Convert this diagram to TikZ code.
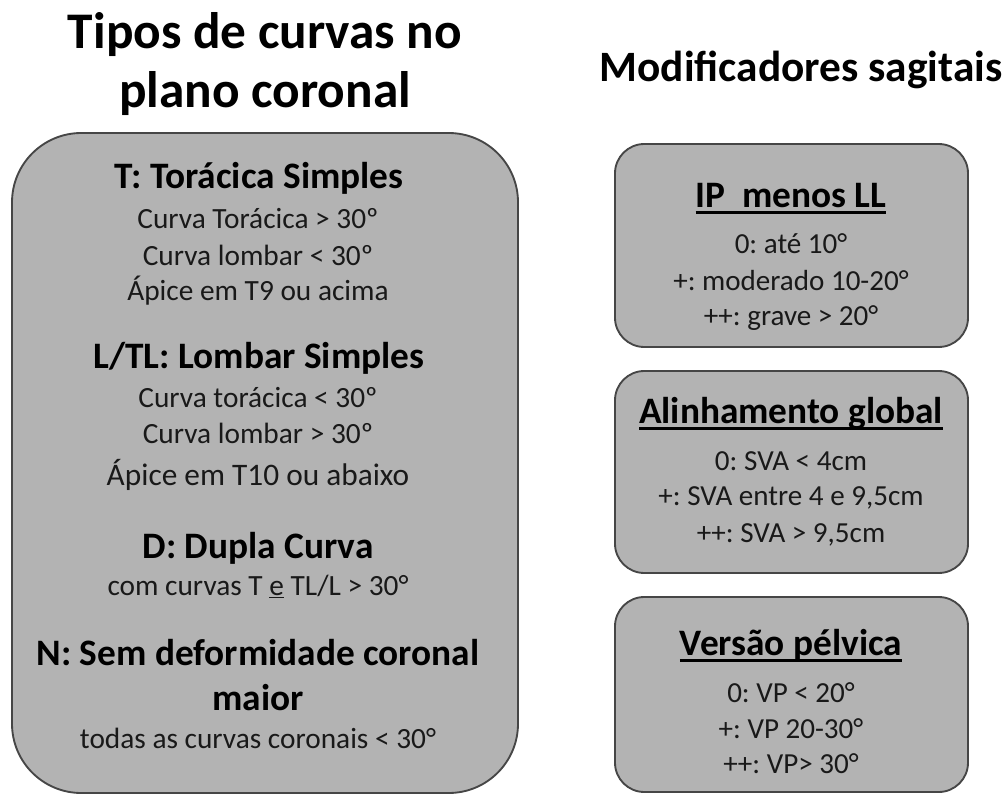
\documentclass[tikz,border=0pt]{standalone}
\usepackage{fontspec}
\setmainfont{Carlito}
\frenchspacing
\definecolor{boxfill}{RGB}{179,179,179}
\definecolor{boxline}{RGB}{70,70,70}
\definecolor{txt}{RGB}{25,25,25}
\newcommand\ulbox[1]{\setbox0=\hbox{#1}\rlap{\rule[-0.18em]{\wd0}{0.085em}}\box0}
\tikzset{
  box/.style={draw=boxline, fill=boxfill, line width=1.4pt, inner sep=0pt},
  ttl/.style={anchor=base, inner sep=0pt, text=black, font=\bfseries\fontsize{38.5}{40}\selectfont},
  sttl/.style={anchor=base, inner sep=0pt, text=black, font=\bfseries\fontsize{32.5}{34}\selectfont},
  hd/.style={anchor=base, inner sep=0pt, text=black, font=\bfseries\fontsize{28}{30}\selectfont},
  bd/.style={anchor=base, inner sep=0pt, text=txt, font=\fontsize{22}{24}\selectfont},
  rbd/.style={anchor=base, inner sep=0pt, text=txt, font=\fontsize{21.8}{23}\selectfont},
}
\begin{document}
\begin{tikzpicture}[x=0.75pt, y=-0.75pt]
\useasboundingbox (0,0) rectangle (1006,795);
% titles
\node[ttl] (t1) at (265,49) {Tipos de curvas no};
\node[ttl] (t2) at (265,108) {plano coronal};
\node[sttl] (t3) at (801,82) {Modificadores sagitais};
% boxes
\node[box, rounded corners=52pt, minimum width=379.5pt, minimum height=495pt] (L) at (265,463) {};
\node[box, rounded corners=22pt, minimum width=264.75pt, minimum height=152.25pt] (R1) at (791.5,245.5) {};
\node[box, rounded corners=22pt, minimum width=264.75pt, minimum height=151.5pt] (R2) at (791.5,472) {};
\node[box, rounded corners=22pt, minimum width=264.75pt, minimum height=146.25pt] (R3) at (791.5,694.5) {};
% left box text
\node[hd] (a1) at (259,189) {T: Torácica Simples};
\node[bd] (a2) at (258,228) {Curva Torácica > 30º};
\node[bd] (a3) at (258,265) {Curva lombar < 30º};
\node[bd] (a4) at (258,300) {Ápice em T9 ou acima};
\node[hd] (b1) at (259,368) {L/TL: Lombar Simples};
\node[bd] (b2) at (258,407) {Curva torácica < 30º};
\node[bd] (b3) at (258,443) {Curva lombar > 30º};
\node[bd, font=\fontsize{23.5}{25}\selectfont] (b4) at (258,485) {Ápice em T10 ou abaixo};
\node[hd] (c1) at (258,558) {D: Dupla Curva};
\node[bd] (c2) at (258,595) {com curvas T \underline{e} TL/L > 30°};
\node[hd] (d1) at (258,665) {N: Sem deformidade coronal};
\node[hd] (d2) at (258,710) {maior};
\node[bd] (d3) at (258,748) {todas as curvas coronais < 30°};
% right box 1
\node[hd] (p1) at (791,207) {\ulbox{IP\ \ menos LL}};
\node[rbd] (p2) at (791,253) {0: até 10°};
\node[rbd] (p3) at (791,290) {+: moderado 10-20°};
\node[rbd] (p4) at (791,325) {++: grave > 20°};
% right box 2
\node[hd] (g1) at (791,423) {\ulbox{Alinhamento global}};
\node[rbd] (g2) at (791,470) {0: SVA < 4cm};
\node[rbd] (g3) at (791,505) {+: SVA entre 4 e 9,5cm};
\node[rbd] (g4) at (791,542) {++: SVA > 9,5cm};
% right box 3
\node[hd] (v1) at (791,655) {\ulbox{Versão pélvica}};
\node[rbd] (v2) at (791,702) {0: VP < 20°};
\node[rbd] (v3) at (791,738) {+: VP 20-30°};
\node[rbd] (v4) at (791,773) {++: VP> 30°};
\end{tikzpicture}
\end{document}
